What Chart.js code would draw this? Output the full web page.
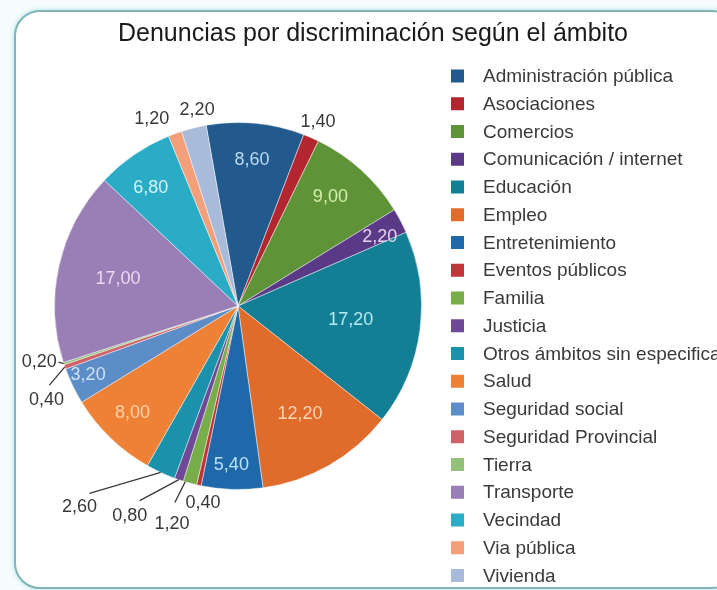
<!DOCTYPE html>
<html>
<head>
<meta charset="utf-8">
<title>Denuncias por discriminación según el ámbito</title>
<script src="https://cdn.jsdelivr.net/npm/chart.js@4.4.1/dist/chart.umd.min.js"></script>
<style>
  html, body { margin: 0; padding: 0; background: #ffffff; }
  #wrap { position: relative; width: 717px; height: 590px; overflow: hidden; background: #f6fcfd; }
  #frame {
    position: absolute; left: 14px; top: 10px; width: 720px; height: 575px;
    border: 2px solid #80b4b7; border-radius: 26px; background: #ffffff;
    box-shadow: 0 0 5px rgba(140, 215, 225, 0.7);
  }
  #chart { position: absolute; left: 0; top: 0; }
</style>
</head>
<body>
<div id="wrap">
  <div id="frame"></div>
  <canvas id="chart" width="717" height="590"></canvas>
</div>
<script>
// Ámbitos de las denuncias (orden de la leyenda y de las porciones)
const categories = [
  'Administración pública', 'Asociaciones', 'Comercios', 'Comunicación / internet',
  'Educación', 'Empleo', 'Entretenimiento', 'Eventos públicos', 'Familia', 'Justicia',
  'Otros ámbitos sin especificar', 'Salud', 'Seguridad social', 'Seguridad Provincial',
  'Tierra', 'Transporte', 'Vecindad', 'Via pública', 'Vivienda'
];

// Porcentaje de denuncias por ámbito
const values = [8.6, 1.4, 9.0, 2.2, 17.2, 12.2, 5.4, 0.4, 1.2, 0.8, 2.6, 8.0, 3.2, 0.4, 0.2, 17.0, 6.8, 1.2, 2.2];

const chartTitle = 'Denuncias por discriminación según el ámbito';

// Colores de cada porción
const sliceColors = [
  '#235a8e', '#b3262f', '#5e9437', '#5a3a86', '#137f94', '#df6c2a', '#1f69aa',
  '#c1343a', '#78ae4a', '#6f4997', '#1a92ab', '#ee8136', '#5d8dc6', '#cf6168',
  '#93c07a', '#9a7fb7', '#2bacc6', '#f29f7a', '#a8bbdb'
];

// Color del texto de los valores dentro de cada porción
const innerTextColors = [
  '#b9d9f2', null, '#d6eeae', '#e2d2f2', '#b6e9f2', '#fbd2b2', '#b9e0f9',
  null, null, null, null, '#fdd3ab', '#cbe1f8', null, null, '#ead9f2', '#d2f4f8', null, null
];

// Ubicación de cada etiqueta: desplazamiento angular (grados) respecto al centro de la
// porción y distancia relativa al radio; "line" traza una guía desde el borde.
const labelSpots = [
  { r: 0.80, da: 0 },
  { r: 1.093, da: 0, out: true },
  { r: 0.78, da: -2 },
  { r: 0.86, da: 1.6 },
  { r: 0.62, da: 0 },
  { r: 0.68, da: 0 },
  { r: 0.87, da: 0.5 },
  { r: 1.088, da: -2.2, out: true },
  { r: 1.239, da: 1.7, out: true, line: { from: 1.5, da: 2.6, r: 1.125 } },
  { r: 1.286, da: 8.5, out: true, line: { from: 0, da: 8.0, r: 1.188 } },
  { r: 1.397, da: 13.3, out: true, line: { from: 0, da: 13.5, r: 1.303 } },
  { r: 0.82, da: 0.5 },
  { r: 0.90, da: 1 },
  { r: 1.163, da: -6.8, out: true, line: { from: 0, da: -3.4, r: 1.115 } },
  { r: 1.125, da: 2.5, out: true, line: { from: 0, da: 0.9, r: 1.025 } },
  { r: 0.67, da: 0 },
  { r: 0.80, da: -2 },
  { r: 1.12, da: -4.7, out: true },
  { r: 1.093, da: 2.2, out: true }
];

const fmt = v => v.toFixed(2).replace('.', ',');
const deg = Math.PI / 180;
const FONT = '"Liberation Sans", Arial, Helvetica, sans-serif';

// Título, leyenda y etiquetas de valores
const decorations = {
  id: 'decorations',
  afterDatasetsDraw(chart) {
    const ctx = chart.ctx;
    const meta = chart.getDatasetMeta(0);
    const ds = chart.data.datasets[0];

    ctx.save();
    ctx.font = '18px ' + FONT;
    ctx.textAlign = 'center';
    ctx.textBaseline = 'middle';
    meta.data.forEach((arc, i) => {
      const p = arc.getProps(['x', 'y', 'startAngle', 'endAngle', 'outerRadius'], true);
      const mid = (p.startAngle + p.endAngle) / 2;
      const spot = labelSpots[i];
      const ang = mid + spot.da * deg;
      const tx = p.x + Math.cos(ang) * p.outerRadius * spot.r;
      const ty = p.y + Math.sin(ang) * p.outerRadius * spot.r;
      if (spot.line) {
        const a0 = mid + spot.line.from * deg;
        const a1 = mid + spot.line.da * deg;
        ctx.beginPath();
        ctx.moveTo(p.x + Math.cos(a0) * p.outerRadius, p.y + Math.sin(a0) * p.outerRadius);
        ctx.lineTo(p.x + Math.cos(a1) * p.outerRadius * spot.line.r,
                   p.y + Math.sin(a1) * p.outerRadius * spot.line.r);
        ctx.strokeStyle = '#3c3c3c';
        ctx.lineWidth = 1.4;
        ctx.stroke();
      }
      ctx.fillStyle = spot.out ? '#383838' : innerTextColors[i];
      ctx.fillText(fmt(ds.data[i]), tx, ty);
    });
    ctx.restore();
  },
  afterDraw(chart) {
    const ctx = chart.ctx;
    const ds = chart.data.datasets[0];
    ctx.save();
    // Título
    ctx.font = '25px ' + FONT;
    ctx.fillStyle = '#1b1b1b';
    ctx.textAlign = 'center';
    ctx.textBaseline = 'alphabetic';
    ctx.fillText(chartTitle, 373, 41);

    // Leyenda
    ctx.font = '19px ' + FONT;
    ctx.textAlign = 'left';
    ctx.textBaseline = 'middle';
    chart.data.labels.forEach((label, i) => {
      const cy = 76 + i * 27.75;
      ctx.fillStyle = ds.backgroundColor[i];
      ctx.fillRect(451, cy - 6.5, 13, 13);
      ctx.fillStyle = '#3a3a3a';
      ctx.fillText(label, 483, cy + 1);
    });
    ctx.restore();
  }
};

new Chart(document.getElementById('chart'), {
  type: 'pie',
  data: {
    labels: categories,
    datasets: [{
      data: values,
      backgroundColor: sliceColors,
      borderColor: 'rgba(255,255,255,0.45)',
      borderWidth: 1
    }]
  },
  options: {
    responsive: false,
    animation: false,
    rotation: -10,
    layout: { padding: { left: 54, right: 295, top: 122, bottom: 100 } },
    plugins: {
      legend: { display: false },
      title: { display: false },
      tooltip: { enabled: false }
    }
  },
  plugins: [decorations]
});
</script>
</body>
</html>
